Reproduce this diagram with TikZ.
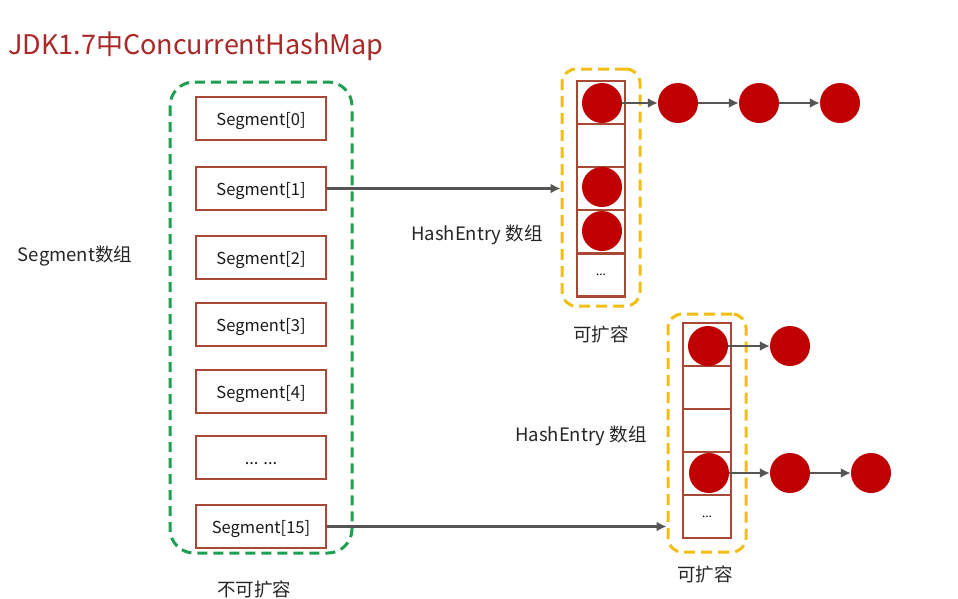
\documentclass[tikz,border=0pt]{standalone}
\usepackage{fontspec}
\setmainfont{Noto Sans CJK SC}
\usetikzlibrary{arrows.meta}
\definecolor{titlered}{RGB}{170,40,40}
\definecolor{segbrown}{RGB}{168,72,52}
\definecolor{grn}{RGB}{30,160,80}
\definecolor{ylw}{RGB}{242,190,20}
\definecolor{arrgray}{RGB}{85,85,85}
\definecolor{nodered}{RGB}{192,0,0}
\tikzset{
  segbox/.style={draw=segbrown, line width=2.8pt, fill=white, minimum width=130pt, minimum height=43pt, inner sep=0pt, text height=14pt, text depth=0pt, font=\fontsize{16.5}{18}\selectfont, text=black!90},
  cellbox/.style={draw=segbrown, line width=2.8pt, fill=white, minimum width=48pt, minimum height=43pt, inner sep=0pt, font=\fontsize{12}{14}\selectfont},
  entry/.style={circle, fill=nodered, minimum size=40pt, inner sep=0pt},
  yellowframe/.style={draw=ylw, line width=3pt, dash pattern=on 11pt off 6pt, rounded corners=14pt, inner sep=0pt},
  link/.style={draw=arrgray, line width=2.8pt, -{Latex[length=10pt,width=10pt]}},
  lbl/.style={font=\fontsize{18.5}{20}\selectfont, text=black!85, inner sep=0pt},
}
\begin{document}
\begin{tikzpicture}[x=1pt,y=-1pt]
\useasboundingbox (0,0) rectangle (958,598);
\fill[white] (0,0) rectangle (958,598);
% title
\node[anchor=west, text=titlered, font=\fontsize{27}{30}\selectfont, inner sep=0pt] (title) at (8,46) {JDK1.7中ConcurrentHashMap};
% green frame
\draw[draw=grn, line width=3pt, dash pattern=on 10pt off 6pt, rounded corners=24pt] (170,82) rectangle (352,553);
\node[lbl] (seglbl) at (75,256) {Segment数组};
\node[lbl] (nokr) at (254,589) {不可扩容};
% segments
\node[segbox] (s0) at (261,118.5) {Segment[0]};
\node[segbox] (s1) at (261,188.5) {Segment[1]};
\node[segbox] (s2) at (261,257.5) {Segment[2]};
\node[segbox] (s3) at (261,324.5) {Segment[3]};
\node[segbox] (s4) at (261,391.5) {Segment[4]};
\node[segbox] (sd) at (261,457.5) {... ...};
\node[segbox] (s15) at (261,526.5) {Segment[15]};
% top array
\node[yellowframe, minimum width=78pt, minimum height=237pt] (ya) at (601,187.5) {};
\node[cellbox] (a0) at (601,102.5) {};
\node[cellbox] (a1) at (601,145.5) {};
\node[cellbox] (a2) at (601,188.5) {};
\node[cellbox] (a3) at (601,231.5) {};
\node[cellbox] (a4) at (601,275) {...};
\node[entry] (e0) at (602,103) {};
\node[entry] (e2) at (602,187) {};
\node[entry] (e3) at (602,231) {};
\node[entry] (c1) at (678,103) {};
\node[entry] (c2) at (759,103) {};
\node[entry] (c3) at (840,103) {};
\draw[link] (e0) -- (c1);
\draw[link] (c1) -- (c2);
\draw[link] (c2) -- (c3);
\node[lbl] (hl1) at (477,235) {HashEntry 数组};
\node[lbl] (kr1) at (601,334) {可扩容};
% bottom array
\node[yellowframe, minimum width=78pt, minimum height=238pt] (yb) at (707,433) {};
\node[cellbox] (b0) at (707,344.5) {};
\node[cellbox] (b1) at (707,387.5) {};
\node[cellbox] (b2) at (707,430.5) {};
\node[cellbox] (b3) at (707,473.5) {};
\node[cellbox] (b4) at (707,516.5) {...};
\node[entry] (f0) at (708,346) {};
\node[entry] (f3) at (709,473) {};
\node[entry] (d1) at (790,346) {};
\node[entry] (g1) at (790,473) {};
\node[entry] (g2) at (871,473) {};
\draw[link] (f0) -- (d1);
\draw[link] (f3) -- (g1);
\draw[link] (g1) -- (g2);
\node[lbl] (hl2) at (581,436) {HashEntry 数组};
\node[lbl] (kr2) at (705,574) {可扩容};
% segment links
\draw[link] (s1.east) -- (s1.east -| ya.west);
\draw[link] (s15.east) -- (s15.east -| yb.west);
\end{tikzpicture}
\end{document}
